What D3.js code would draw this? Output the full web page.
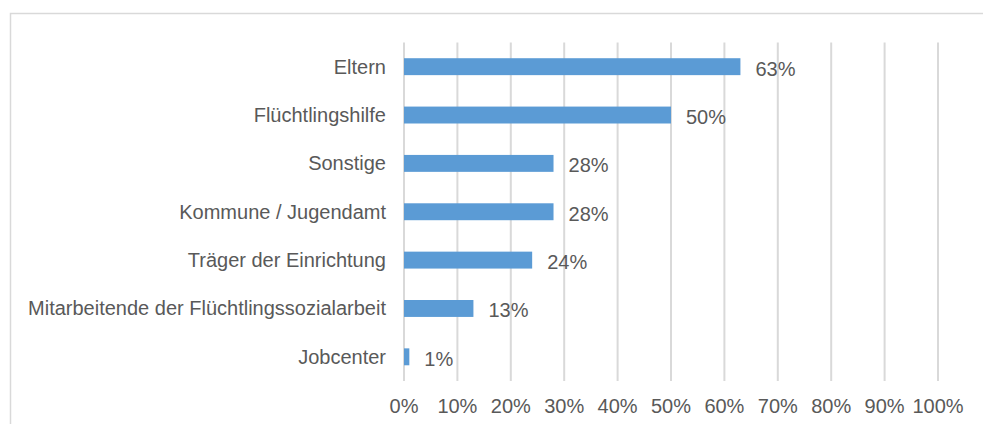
<!DOCTYPE html>
<html lang="de">
<head>
<meta charset="utf-8">
<title>Ansprechpartner</title>
<script src="https://d3js.org/d3.v7.min.js"></script>
<style>
  body { margin: 0; background: #fff; }
  text { font-family: "Liberation Sans", Arial, sans-serif; fill: #595959; }
</style>
</head>
<body>
<script>
// data
var categories = ["Eltern", "Flüchtlingshilfe", "Sonstige", "Kommune / Jugendamt",
                  "Träger der Einrichtung", "Mitarbeitende der Flüchtlingssozialarbeit", "Jobcenter"];
var values = [63, 50, 28, 28, 24, 13, 1];
var ticks = [0, 10, 20, 30, 40, 50, 60, 70, 80, 90, 100];

var w = 983, h = 424;
var fs = 20;

var svg = d3.select("body").append("svg")
    .attr("width", w)
    .attr("height", h);

// chart area frame
svg.append("rect")
    .attr("x", 10.5).attr("y", 13.5)
    .attr("width", 990).attr("height", 430)
    .attr("fill", "none")
    .attr("stroke", "#d9d9d9")
    .attr("stroke-width", 1.5);

var x = d3.scaleLinear().domain([0, 100]).range([404, 938]);
var y = d3.scaleBand().domain(categories).range([42.5, 381]).paddingInner(0.65).paddingOuter(0.325);

// gridlines
svg.append("g").selectAll("line")
    .data(ticks)
    .enter().append("line")
    .attr("x1", function(d) { return x(d); })
    .attr("x2", function(d) { return x(d); })
    .attr("y1", 42.5).attr("y2", 381)
    .attr("stroke", "#d9d9d9")
    .attr("stroke-width", 2);

// tick labels
svg.append("g").selectAll("text")
    .data(ticks)
    .enter().append("text")
    .attr("x", function(d) { return x(d); })
    .attr("y", 413)
    .attr("text-anchor", "middle")
    .style("font-size", fs + "px")
    .text(function(d) { return d + "%"; });

// category labels
svg.append("g").selectAll("text")
    .data(categories)
    .enter().append("text")
    .attr("x", 386)
    .attr("y", function(d) { return y(d) + y.bandwidth() / 2; })
    .attr("dy", "0.35em")
    .attr("text-anchor", "end")
    .style("font-size", fs + "px")
    .text(function(d) { return d; });

// bars
svg.append("g").selectAll("rect")
    .data(values)
    .enter().append("rect")
    .attr("x", x(0))
    .attr("y", function(d, i) { return y(categories[i]); })
    .attr("width", function(d) { return x(d) - x(0); })
    .attr("height", y.bandwidth())
    .attr("fill", "#5b9bd5");

// value labels
svg.append("g").selectAll("text")
    .data(values)
    .enter().append("text")
    .attr("x", function(d) { return x(d) + 15; })
    .attr("y", function(d, i) { return y(categories[i]) + y.bandwidth() / 2 + 2; })
    .attr("dy", "0.35em")
    .style("font-size", fs + "px")
    .text(function(d) { return d + "%"; });
</script>
</body>
</html>
